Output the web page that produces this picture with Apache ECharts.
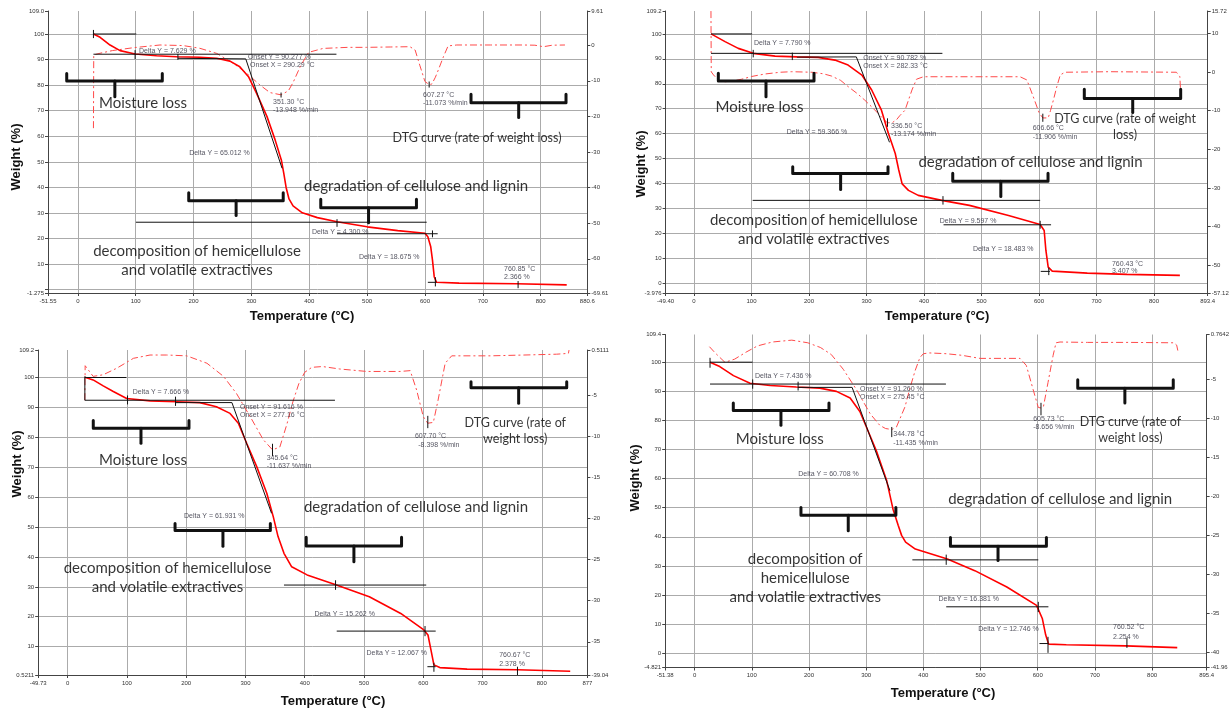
<!DOCTYPE html>
<html><head><meta charset="utf-8">
<script src="https://cdn.jsdelivr.net/npm/echarts@6.0.0/dist/echarts.min.js"></script>
<style>html,body{margin:0;padding:0;background:#fff;}#chart{width:1232px;height:710px;}</style>
</head><body><div id="chart"></div>
<script>
// ================= DATA =================
// ---- Panel A (top-left) ----
const aTgTemp   = [27, 38.5, 55.7, 73, 99, 136, 171, 211, 240, 263, 280, 295, 309, 327, 341, 352, 356, 360, 365, 372, 388, 414, 448, 500, 553, 600, 605, 610, 613, 616, 620, 659, 758, 845];
const aTgWeight = [100, 98.7, 95.7, 93.5, 92.2, 91.5, 91.1, 90.9, 90.5, 89.4, 87.2, 83.3, 76.8, 67.7, 58.6, 50.5, 45.5, 40, 35.5, 32.8, 30.1, 28.2, 26.6, 24.6, 23.1, 22.1, 20.7, 16.8, 11.6, 5.1, 2.9, 2.6, 2.35, 1.9];
const aDtgTemp  = [27, 27.5, 40, 60, 96, 142, 182, 211, 240, 269, 292, 315, 332, 351.3, 364, 372, 385, 399, 424, 467, 499, 540, 574, 583, 591, 600, 607.27, 612, 618, 623, 632, 640, 655, 713, 771, 790, 805, 820, 842];
const aDtgRate  = [-23.3, -2.7, -2.2, -1.5, -0.7, 0.06, -0.1, -0.87, -2.3, -5.1, -7.9, -11.2, -13.3, -13.95, -12.8, -10.5, -5.8, -2.0, -0.9, -0.6, -0.6, -0.5, -0.42, -1.35, -5.6, -10.2, -11.07, -10.9, -9.0, -7.0, -3.2, -0.2, 0.06, 0.06, 0.06, 0.0, -0.42, 0.0, 0.06];
const aXLabels  = ['-51.55','0','100','200','300','400','500','600','700','800','880.6'];
const aWTicks   = [-1.275, 0, 10, 20, 30, 40, 50, 60, 70, 80, 90, 100, 109.0];
const aWLabels  = ['-1.275','10','20','30','40','50','60','70','80','90','100','109.0'];
const aRLabels  = ['-69.61','-60','-50','-40','-30','-20','-10','0','9.61'];

// ---- Panel B (top-right) ----
const bTgTemp   = [29.6, 54, 77, 103, 141, 179, 216, 245, 268, 292, 309, 326, 338, 350, 356, 362, 373, 390, 431, 479, 547, 602, 609, 612, 616, 623, 684, 753, 845];
const bTgWeight = [100, 96.9, 94.2, 92.2, 91.1, 90.8, 90.6, 89.5, 87.5, 83.5, 77.5, 69.4, 60.1, 52.0, 45.5, 39.8, 37.2, 35.2, 33.2, 31.2, 27.1, 23.5, 21.1, 13.1, 6.4, 4.8, 4.0, 3.5, 3.1];
const bDtgTemp  = [29.5, 30, 34, 42, 54, 65, 83, 100, 123, 150, 170, 205, 225, 239, 255, 268, 283, 297, 310, 320, 330, 336.5, 345, 352, 358, 367, 379, 387, 399, 434, 492, 567, 579, 590, 600, 606.66, 616, 620, 625, 631, 637, 645, 723, 839, 845, 846];
const bDtgRate  = [15.7, 0, -0.8, -2.1, -2.55, -2.4, -1.9, -1.2, -0.56, -0.1, 0.04, -0.1, -0.5, -1.07, -2.2, -3.8, -5.5, -7.3, -9.2, -10.7, -12.3, -13.17, -13.1, -12.4, -11.3, -9.9, -4.7, -1.9, -1.26, -1.26, -1.26, -1.26, -2.1, -6.4, -10.5, -11.9, -11.9, -10.0, -7.3, -3.8, -0.8, -0.1, 0.04, -0.1, -1.26, -4.3];
const bXLabels  = ['-49.40','0','100','200','300','400','500','600','700','800','893.4'];
const bWTicks   = [-3.976, 0, 10, 20, 30, 40, 50, 60, 70, 80, 90, 100, 109.2];
const bWLabels  = ['-3.976','0','10','20','30','40','50','60','70','80','90','100','109.2'];
const bRLabels  = ['-57.12','-50','-40','-30','-20','-10','0','10','15.72'];

// ---- Panel C (bottom-left) ----
const cTgTemp   = [29, 43, 60, 77, 99.6, 139, 184, 223, 251, 274, 288, 302, 319, 336, 347, 355, 365, 378, 404, 450, 509, 562, 601, 608, 613, 618, 628, 674, 759, 848];
const cTgWeight = [100.1, 99.2, 97.2, 95.3, 93.0, 92.2, 91.9, 91.6, 90.2, 88.0, 84.7, 78.0, 70.2, 61.3, 53.4, 46.8, 41.2, 36.7, 34.0, 30.9, 26.7, 21.1, 15.6, 13.9, 8.9, 3.9, 3.0, 2.5, 2.3, 1.8];
const cDtgTemp  = [29, 29.5, 43, 60, 83, 111, 139, 167, 201, 235, 263, 285, 308, 330, 345.64, 358, 370, 380, 390, 400, 412, 430, 459, 505, 561, 578, 589, 600, 607.7, 617, 625, 637, 648, 713, 770, 825, 845, 846];
const cDtgRate  = [-5.6, -1.4, -2.7, -2.5, -1.7, -0.5, -0.1, -0.1, -0.2, -1.1, -2.7, -4.8, -7.6, -10.4, -11.64, -11.3, -8.5, -5.8, -3.6, -2.2, -1.6, -1.5, -1.8, -2.1, -2.1, -2.0, -4.4, -7.6, -8.4, -8.3, -5.6, -1.1, -0.2, -0.2, -0.1, 0.0, 0.1, 0.5];
const cXLabels  = ['-49.73','0','100','200','300','400','500','600','700','800','877'];
const cWTicks   = [0.5211, 10, 20, 30, 40, 50, 60, 70, 80, 90, 100, 109.2];
const cWLabels  = ['0.5211','10','20','30','40','50','60','70','80','90','100','109.2'];
const cRLabels  = ['-39.04','-35','-30','-25','-20','-15','-10','-5','0.5111'];

// ---- Panel D (bottom-right) ----
const dTgTemp   = [27, 44, 68, 97, 132, 178, 219, 248, 272, 289, 301, 318, 336, 347, 356, 362, 369, 386, 414, 442, 490, 546, 598, 608, 614, 619, 650, 754, 844];
const dTgWeight = [99.9, 98.4, 95.3, 92.7, 91.9, 91.4, 91.0, 89.9, 87.6, 83.0, 77.4, 69.4, 59.2, 49.5, 44.0, 40.5, 38.2, 35.8, 34.1, 32.4, 28.4, 22.8, 16.5, 12.0, 6.3, 3.2, 3.0, 2.6, 2.0];
const dDtgTemp  = [26, 36, 53, 70, 90, 110, 136, 170, 198, 220, 239, 260, 283, 307, 324, 334, 344.78, 353, 368, 377, 386, 394, 400, 411, 440, 467, 499, 540, 569, 580, 592, 601, 605.73, 610, 618, 627, 632, 639, 687, 760, 838, 843, 845];
const dDtgRate  = [-0.8, -1.6, -2.8, -2.4, -1.5, -0.7, -0.2, 0.04, -0.3, -0.9, -1.8, -3.7, -6.3, -9.4, -10.9, -11.3, -11.43, -11.1, -8.5, -6.0, -3.8, -2.2, -1.7, -1.6, -1.7, -1.9, -2.3, -2.3, -2.3, -3.2, -6.3, -8.6, -8.66, -8.5, -5.4, -1.9, -0.3, -0.2, -0.25, -0.25, -0.3, -0.6, -1.3];
const dXLabels  = ['-51.38','0','100','200','300','400','500','600','700','800','895.4'];
const dWTicks   = [-4.821, 0, 10, 20, 30, 40, 50, 60, 70, 80, 90, 100, 109.4];
const dWLabels  = ['-4.821','0','10','20','30','40','50','60','70','80','90','100','109.4'];
const dRLabels  = ['-41.96','-40','-35','-30','-25','-20','-15','-10','-5','0.7642'];

// ================= ANNOTATIONS (data coordinates) =================
const aLines = [[[27,100],[101,100]],[[27,101.6],[27,98.4]],[[27,92.1],[447,92.1]],[[99,93.7],[99,90.2]],[[173,92.2],[173,89.9]],[[173,90.5],[290.29,90.277]],[[290.29,90.277],[353,47.5]],[[100.4,26.4],[603,26.4]],[[448,27.6],[448,24.6]],[[448,21.9],[622,21.9]],[[613,23.2],[613,20.5]],[[605,2.9],[620,2.9]],[[618,4.9],[618,1.3]],[[761,3.4],[761,0.6]]];
const aDtgMarks = [[[607.27,-10.2],[607.27,-11.9]],[[351.3,-13.3],[351.3,-14.7]]];
const aBraces = [[-19.2,146,84.6,81.6,64,75.5],[679.6,843.8,76.4,73.1,762,67.4],[191.7,355,37.9,34.8,273.6,29.0],[419.9,585.3,35.4,32.1,502.5,26.2]];
const aNotes = [['Delta Y = 7.629 %',105.8,93.4],['Onset Y = 90.277 %',294,91.0],['Onset X = 290.29 °C',297.7,87.7],['351.30 °C',337.4,73.5],['-13.948 %/min',337.4,70.3],['Delta Y = 65.012 %',192.4,53.6],['607.27 °C',596.6,76.1],['-11.073 %/min',596.6,72.9],['Delta Y = 4.300 %',404.6,22.7],['Delta Y = 18.675 %',486,12.9],['760.85 °C',736.7,8.1],['2.366 %',736.7,5.1]];
const aTexts = [['Moisture loss',112.6,73.1],['DTG curve (rate of weight loss)',690,59.3],['degradation of cellulose and lignin',584.6,40.7],['decomposition of hemicellulose\nand volatile extractives',206,11.2]];

const bLines = [[[29.6,100],[101,100]],[[29.6,92.2],[432,92.2]],[[103,93.6],[103,90.6]],[[171,92.5],[171,89.5]],[[179,90.7],[282.33,90.782]],[[282.33,90.782],[340,56.5]],[[102,33.2],[602,33.2]],[[433,34.9],[433,31.5]],[[434,23.4],[621,23.4]],[[602,25],[602,21.8]],[[603,4.7],[619,4.7]],[[617,6.2],[617,3.2]]];
const bDtgMarks = [[[336.5,-12.0],[336.5,-14.2]],[[606.66,-10.8],[606.66,-12.9]]];
const bBraces = [[42.3,208.7,84.2,81.1,125.2,74.8],[678.8,846.4,77.8,74.1,763,68.5],[171.7,337.4,46.7,44.0,255,37.6],[450,615.7,44.1,40.9,533.6,34.8]];
const bNotes = [['Delta Y = 7.790 %',104.3,96.2],['Onset Y = 90.782 %',294.4,90.2],['Onset X = 282.33 °C',294.4,87.1],['336.50 °C',342.6,63.0],['-13.174 %/min',342.6,59.8],['Delta Y = 59.366 %',161.2,60.7],['606.66 °C',589,62.1],['-11.906 %/min',589,58.7],['Delta Y = 9.597 %',427.5,24.9],['Delta Y = 18.483 %',485.2,13.6],['760.43 °C',726.8,7.6],['3.407 %',726.8,4.8]];
const bTexts = [['Moisture loss',113.9,70.8],['DTG curve (rate of weight\nloss)',749.6,62.7],['degradation of cellulose and lignin',585.2,48.4],['decomposition of hemicellulose\nand volatile extractives',208.3,21.4]];

const cLines = [[[29,100],[99,100]],[[29,100.4],[29,92.4]],[[29,92.4],[451,92.4]],[[101,94.0],[101,91.0]],[[182,93.6],[182,90.5]],[[182,91.6],[277.16,91.616]],[[277.16,91.616],[344,54.6]],[[365,30.6],[605,30.6]],[[452,32.2],[452,29.0]],[[454,15.2],[621,15.2]],[[603,16.9],[603,13.5]],[[607,3.3],[621,3.3]],[[618,4.6],[618,1.6]],[[759,3.3],[759,0.5]]];
const cDtgMarks = [[[345.64,-10.9],[345.64,-12.4]],[[607.7,-7.5],[607.7,-9.0]]];
const cBraces = [[43.2,204.7,85.6,83.0,123.7,78.0],[680.6,842.1,98.6,96.6,761,91.4],[181.2,342,51.2,48.8,262,43.6],[402.5,563.4,46.6,43.7,483,38.4]];
const cNotes = [['Delta Y = 7.666 %',109.7,95.3],['Onset Y = 91.616 %',290.8,90.2],['Onset X = 277.16 °C',290.8,87.5],['345.64 °C',335.8,73.2],['-11.637 %/min',335.8,70.4],['607.70 °C',586,80.4],['-8.398 %/min',591.6,77.4],['Delta Y = 61.931 %',196.3,53.7],['Delta Y = 15.262 %',416.3,20.9],['Delta Y = 12.067 %',504.2,8.0],['760.67 °C',728.2,7.2],['2.378 %',728.2,4.2]];
const cTexts = [['Moisture loss',127,72.4],['DTG curve (rate of\nweight loss)',755.3,82.1],['degradation of cellulose and lignin',587.8,56.8],['decomposition of hemicellulose\nand volatile extractives',168.4,33.2]];

const dLines = [[[27,99.9],[101.6,99.9]],[[27,101.4],[27,98.0]],[[27,92.4],[439.5,92.4]],[[101.6,94.0],[101.6,90.8]],[[181,93.2],[181,90.2]],[[181,91.26],[275.45,91.26]],[[275.45,91.26],[341.6,55.8]],[[380.8,32.1],[601,32.1]],[[440,33.9],[440,30.4]],[[440,16.0],[618.7,16.0]],[[601,17.7],[601,14.2]],[[603,3.4],[619,3.4]],[[618,5.7],[618,0.2]],[[756,5.3],[756,1.9]]];
const dDtgMarks = [[[344.78,-11.1],[344.78,-12.4]],[[605.73,-8.0],[605.73,-9.6]]];
const dBraces = [[67.7,235,85.9,83.3,151,78.3],[670,837,93.9,91.0,752.4,85.9],[186,352,50.1,47.4,268.7,42.1],[447.4,615.2,39.8,36.8,530.6,31.9]];
const dNotes = [['Delta Y = 7.436 %',105.6,95.0],['Onset Y = 91.260 %',289.2,90.7],['Onset X = 275.45 °C',289.2,87.8],['344.78 °C',347.4,75.1],['-11.435 %/min',347.4,72.3],['605.73 °C',592.1,80.5],['-8.656 %/min',592.1,77.6],['Delta Y = 60.708 %',181.3,61.7],['Delta Y = 16.381 %',426.6,18.8],['Delta Y = 12.746 %',496,8.3],['760.52 °C',731.8,8.9],['2.254 %',731.8,5.7]];
const dTexts = [['Moisture loss',148.8,73.4],['DTG curve (rate of\nweight loss)',762,76.5],['degradation of cellulose and lignin',639.3,52.9],['decomposition of\nhemicellulose\nand volatile extractives',193.5,25.9]];

// ================= LAYOUT =================
const panels = [
  {grid:{left:48.0, top:11, width:539.3, height:282}, xl:aXLabels, wt:aWTicks, wl:aWLabels, rl:aRLabels,
   tgT:aTgTemp, tgW:aTgWeight, dT:aDtgTemp, dR:aDtgRate, lines:aLines, marks:aDtgMarks, braces:aBraces, notes:aNotes, texts:aTexts,
   wTitle:[16,157], tTitle:[302,316]},
  {grid:{left:665.6, top:11, width:542.1, height:282}, xl:bXLabels, wt:bWTicks, wl:bWLabels, rl:bRLabels,
   tgT:bTgTemp, tgW:bTgWeight, dT:bDtgTemp, dR:bDtgRate, lines:bLines, marks:bDtgMarks, braces:bBraces, notes:bNotes, texts:bTexts,
   wTitle:[641,164], tTitle:[937,316]},
  {grid:{left:38.2, top:350, width:549.2, height:325}, xl:cXLabels, wt:cWTicks, wl:cWLabels, rl:cRLabels,
   tgT:cTgTemp, tgW:cTgWeight, dT:cDtgTemp, dR:cDtgRate, lines:cLines, marks:cDtgMarks, braces:cBraces, notes:cNotes, texts:cTexts,
   wTitle:[17,464], tTitle:[333,701]},
  {grid:{left:665.2, top:334.5, width:541.6, height:333}, xl:dXLabels, wt:dWTicks, wl:dWLabels, rl:dRLabels,
   tgT:dTgTemp, tgW:dTgWeight, dT:dDtgTemp, dR:dDtgRate, lines:dLines, marks:dDtgMarks, braces:dBraces, notes:dNotes, texts:dTexts,
   wTitle:[635,478], tTitle:[943,693]}
];

function labelFor(list){
  return function(v){ for (const s of list){ if (Math.abs(parseFloat(s) - v) < 1e-6) return s; } return ''; };
}
function pairs(xs, ys){ return xs.map((x,i)=>[x, ys[i]]); }

const TICK_FONT = {fontSize:6, color:'#333', fontFamily:'Liberation Sans'};
const grids = [], xAxes = [], yAxes = [], series = [], graphics = [];

panels.forEach((p, i) => {
  grids.push(Object.assign({containLabel:false}, p.grid));
  const xv = p.xl.map(Number);
  xAxes.push({type:'value', gridIndex:i, min:xv[0], max:xv[xv.length-1],
    axisLine:{show:true, onZero:false, lineStyle:{color:'#444', width:1}},
    axisTick:{show:true, customValues:xv, length:3, lineStyle:{color:'#444'}},
    axisLabel:Object.assign({show:true, customValues:xv, formatter:labelFor(p.xl), margin:5}, TICK_FONT),
    splitLine:{show:true, showMinLine:false, showMaxLine:false, lineStyle:{color:'#ababab', width:1}}});
  const wl = p.wl.map(Number);
  yAxes.push({type:'value', gridIndex:i, position:'left', min:p.wt[0], max:p.wt[p.wt.length-1],
    axisLine:{show:true, onZero:false, lineStyle:{color:'#444', width:1}},
    axisTick:{show:true, customValues:p.wt, length:3, lineStyle:{color:'#444'}},
    axisLabel:Object.assign({show:true, customValues:wl, formatter:labelFor(p.wl), margin:4}, TICK_FONT),
    splitLine:{show:true, showMinLine:false, showMaxLine:false, lineStyle:{color:'#ababab', width:1}}});
  const rv = p.rl.map(Number);
  yAxes.push({type:'value', gridIndex:i, position:'right', min:rv[0], max:rv[rv.length-1],
    axisLine:{show:true, onZero:false, lineStyle:{color:'#444', width:1}},
    axisTick:{show:true, customValues:rv, length:3, lineStyle:{color:'#444'}},
    axisLabel:Object.assign({show:true, customValues:rv, formatter:labelFor(p.rl), margin:4}, TICK_FONT),
    splitLine:{show:false}});
  const yl = 2*i, yr = 2*i + 1;
  // DTG (dashed, right axis)
  series.push({type:'line', xAxisIndex:i, yAxisIndex:yr, data:pairs(p.dT, p.dR), symbol:'none', silent:true, z:2,
    lineStyle:{color:'#ff4a4a', width:1, type:[7,3,2,3]}});
  // TG (solid, left axis)
  series.push({type:'line', xAxisIndex:i, yAxisIndex:yl, data:pairs(p.tgT, p.tgW), symbol:'none', silent:true, z:3,
    lineStyle:{color:'#ff0000', width:1.6}});
  // annotation lines
  series.push({type:'lines', coordinateSystem:'cartesian2d', xAxisIndex:i, yAxisIndex:yl, polyline:true, silent:true, z:4,
    data:p.lines.map(s=>({coords:s})), lineStyle:{color:'#111', width:1, opacity:1}});
  series.push({type:'lines', coordinateSystem:'cartesian2d', xAxisIndex:i, yAxisIndex:yr, polyline:true, silent:true, z:4,
    data:p.marks.map(s=>({coords:s})), lineStyle:{color:'#111', width:1, opacity:1}});
  // braces
  const braceData = [];
  p.braces.forEach(b => {
    braceData.push({coords:[[b[0],b[2]],[b[0],b[3]],[b[1],b[3]],[b[1],b[2]]]});
    braceData.push({coords:[[b[4],b[3]],[b[4],b[5]]]});
  });
  series.push({type:'lines', coordinateSystem:'cartesian2d', xAxisIndex:i, yAxisIndex:yl, polyline:true, silent:true, z:5,
    data:braceData, lineStyle:{color:'#111', width:3, opacity:1, cap:'round', join:'round'}});
  // small notes
  series.push({type:'scatter', xAxisIndex:i, yAxisIndex:yl, symbolSize:0, silent:true, z:6,
    data:p.notes.map(n=>({name:n[0], value:[n[1], n[2]]})),
    label:{show:true, position:'inside', align:'left', verticalAlign:'middle', formatter:'{b}',
      fontSize:7, fontFamily:'Liberation Sans', color:'#2a2a3a'}});
  // big annotation texts (DTG caption is set a little smaller, as in the source figure)
  series.push({type:'scatter', xAxisIndex:i, yAxisIndex:yl, symbolSize:0, silent:true, z:6,
    data:p.texts.map(n=>{
      const small = n[0].indexOf('DTG') === 0;
      return {name:n[0], value:[n[1], n[2]], label: small ? {fontSize:12.5, lineHeight:16} : {}};
    }),
    label:{show:true, position:'inside', align:'center', verticalAlign:'middle', formatter:'{b}',
      fontSize:15, lineHeight:19, fontFamily:'Lato', fontWeight:'normal', color:'#000'}});
  // axis titles
  graphics.push({type:'text', x:p.wTitle[0], y:p.wTitle[1], rotation:Math.PI/2,
    style:{text:'Weight (%)', font:'bold 13px "Liberation Sans"', fill:'#111', align:'center', verticalAlign:'middle'}});
  graphics.push({type:'text', x:p.tTitle[0], y:p.tTitle[1],
    style:{text:'Temperature (°C)', font:'bold 13px "Liberation Sans"', fill:'#111', align:'center', verticalAlign:'middle'}});
});

const chart = echarts.init(document.getElementById('chart'), null, {renderer:'canvas'});
chart.setOption({
  animation:false,
  backgroundColor:'#ffffff',
  grid:grids, xAxis:xAxes, yAxis:yAxes, series:series, graphic:graphics
});
</script></body></html>
